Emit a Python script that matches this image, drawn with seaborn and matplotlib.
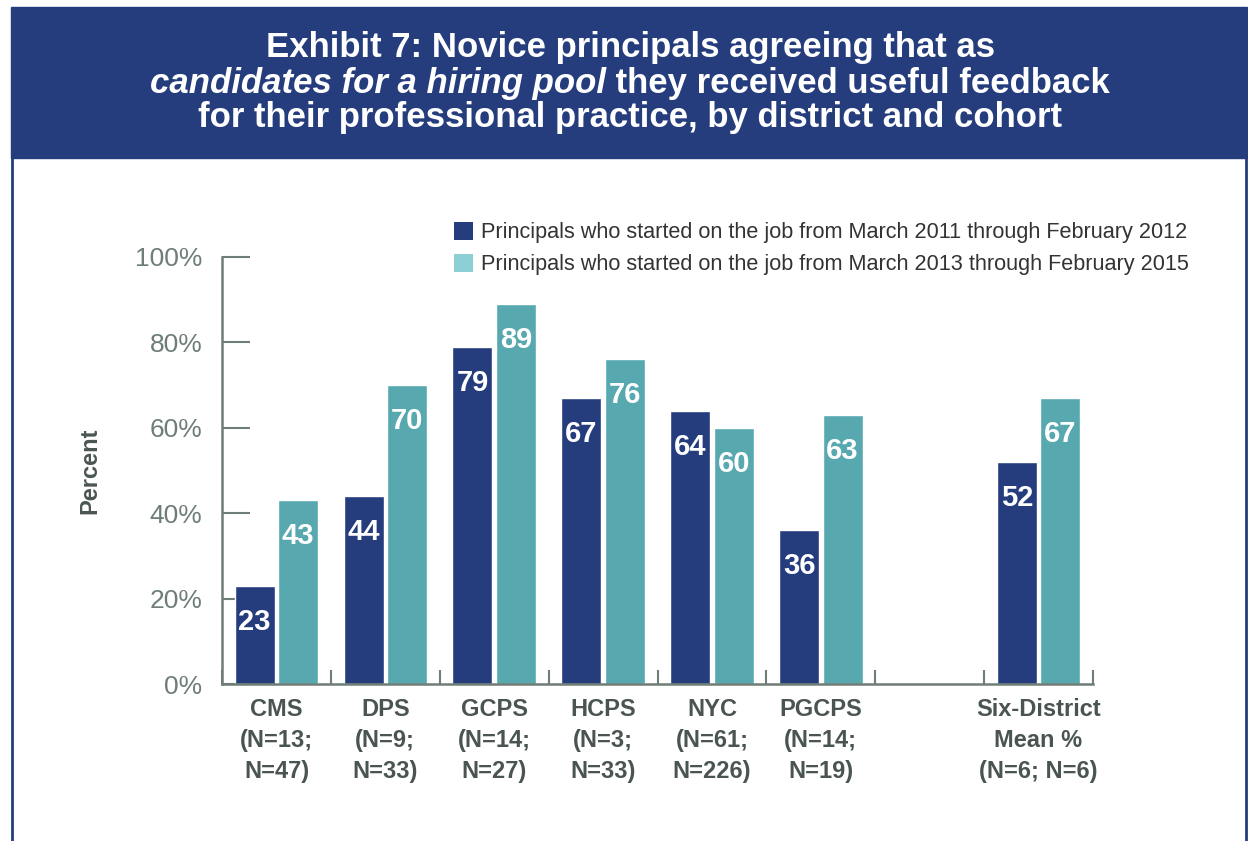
import matplotlib
matplotlib.use("Agg")
import matplotlib.pyplot as plt
from matplotlib.patches import Rectangle, Patch
from matplotlib.lines import Line2D
import pandas as pd
import numpy as np
import seaborn as sns

# data
districts = ["CMS", "DPS", "GCPS", "HCPS", "NYC", "PGCPS", " ", "Six-District"]
tick_labels = ["CMS\n(N=13;\nN=47)", "DPS\n(N=9;\nN=33)", "GCPS\n(N=14;\nN=27)",
               "HCPS\n(N=3;\nN=33)", "NYC\n(N=61;\nN=226)", "PGCPS\n(N=14;\nN=19)",
               "", "Six-District\nMean %\n(N=6; N=6)"]
bar_districts = ["CMS", "DPS", "GCPS", "HCPS", "NYC", "PGCPS", "Six-District"]
cohort_2011 = [23, 44, 79, 67, 64, 36, 52]
cohort_2013 = [43, 70, 89, 76, 60, 63, 67]
series = ["Principals who started on the job from March 2011 through February 2012",
          "Principals who started on the job from March 2013 through February 2015"]

df = pd.DataFrame({
    "district": bar_districts * 2,
    "cohort": [series[0]] * len(bar_districts) + [series[1]] * len(bar_districts),
    "pct": cohort_2011 + cohort_2013,
})

NAVY = "#253d7d"
TEAL = "#58a8b0"
TEAL_LEG = "#8ccfd4"
AXIS = "#6e7d75"
LABEL = "#4a5551"

sns.set_style("white")
plt.rcParams["font.family"] = ["Liberation Sans Narrow", "Liberation Sans", "DejaVu Sans"]

W, H = 1248, 841
fig = plt.figure(figsize=(W / 100, H / 100), dpi=100)

# header band and frame
fig.patches.append(Rectangle((11 / W, 1 - 158 / H), (1247 - 11) / W, (158 - 7) / H,
                             transform=fig.transFigure, color=NAVY, zorder=0))
fig.add_artist(Line2D([12 / W, 12 / W], [0, 1 - 158 / H], transform=fig.transFigure,
                      color=NAVY, lw=2))
fig.add_artist(Line2D([1246 / W, 1246 / W], [0, 1 - 158 / H], transform=fig.transFigure,
                      color=NAVY, lw=2))

ax = fig.add_axes([222 / W, 1 - 684 / H, (1093 - 222) / W, (684 - 257) / H])
sns.barplot(data=df, x="district", y="pct", hue="cohort", order=districts,
            hue_order=series, palette=[NAVY, TEAL], width=0.8, gap=0.08,
            saturation=1, ax=ax, legend=False)

ax.set_ylim(0, 100)
ax.set_xlim(-0.5, 7.5)
ax.set_yticks([0, 20, 40, 60, 80, 100])
ax.set_yticklabels([f"{v}%" for v in range(0, 101, 20)], fontsize=19, color=AXIS)
ax.tick_params(axis="y", direction="in", length=20, width=1.5, color=AXIS, pad=14, left=True)
ax.set_xticks(range(len(districts)))
ax.set_xticklabels(tick_labels, fontsize=17, fontweight="bold", color=LABEL, linespacing=1.45)
ax.tick_params(axis="x", length=0, pad=10)
ax.set_xticks(np.arange(-0.5, 8, 1), minor=True)
ax.tick_params(axis="x", which="minor", direction="in", length=10, width=1.5,
               color=AXIS, bottom=True)
for s in ["top", "right"]:
    ax.spines[s].set_visible(False)
for s in ["left", "bottom"]:
    ax.spines[s].set_color(AXIS)
    ax.spines[s].set_linewidth(1.8)
ax.set_xlabel("")
ax.set_ylabel("Percent", fontsize=17, fontweight="bold", color=LABEL, labelpad=24)

for cont in ax.containers:
    ax.bar_label(cont, labels=[f"{v:.0f}" for v in cont.datavalues], padding=-36,
                 color="white", fontsize=21, fontweight="bold")

# legend
handles = [Patch(facecolor=NAVY, edgecolor="none"), Patch(facecolor=TEAL_LEG, edgecolor="none")]
fig.legend(handles, series, loc="upper left", bbox_to_anchor=(445 / W, 1 - 213 / H),
           frameon=False, fontsize=15.6, labelcolor="#333333", handlelength=0.9,
           handleheight=0.9, handletextpad=0.35, labelspacing=0.5, borderaxespad=0)

# title with mixed italic
tkw = dict(color="white", fontsize=25, fontweight="bold", va="center", transform=fig.transFigure)
fig.text(0.505, 1 - 48 / H, "Exhibit 7: Novice principals agreeing that as", ha="center", **tkw)
fig.text(0.505, 1 - 118 / H, "for their professional practice, by district and cohort", ha="center", **tkw)
t1 = fig.text(0, 1 - 83 / H, "candidates for a hiring pool", ha="left", style="italic", **tkw)
t2 = fig.text(0, 1 - 83 / H, " they received useful feedback", ha="left", **tkw)
r = fig.canvas.get_renderer()
w1 = t1.get_window_extent(r).width / W
w2 = t2.get_window_extent(r).width / W
x0 = 0.505 - (w1 + w2) / 2
t1.set_x(x0)
t2.set_x(x0 + w1)

fig.savefig("out.png", dpi=100, facecolor="white")
